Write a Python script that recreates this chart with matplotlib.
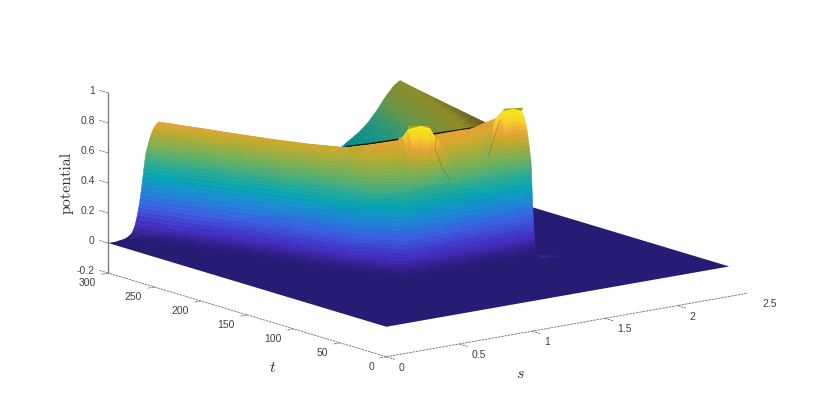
import numpy as np
import matplotlib
matplotlib.use("Agg")
import matplotlib.pyplot as plt
from matplotlib.colors import LinearSegmentedColormap
from mpl_toolkits.mplot3d import proj3d

plt.rcParams["font.family"] = ["Liberation Sans", "DejaVu Sans"]
plt.rcParams["mathtext.fontset"] = "cm"

# axes
s_ticks = [0, 0.5, 1, 1.5, 2, 2.5]
t_ticks = [0, 50, 100, 150, 200, 250, 300]
z_ticks = [-0.2, 0, 0.2, 0.4, 0.6, 0.8, 1]
s_max = 2.355
t_max = 300

# The surface is lofted from values: each station across
# the wave front has a foot, a shoulder and a crest, and the row lists give the
# height profile between them (the picture has far too many cells to type).
foot_s = [0.06, 0.13, 0.20, 0.28, 0.35, 0.42, 0.46, 0.50, 0.57, 0.63, 0.67, 0.73, 0.80, 0.90, 1.00,
          1.15, 1.25, 1.32, 1.38, 1.45, 1.55, 1.63]
foot_t = [300, 275, 250, 225, 200, 175, 160, 145, 120, 100, 89, 89, 89, 89, 89,
          89, 89, 89, 89, 89, 89, 90]
sh_s = [0.26, 0.35, 0.44, 0.52, 0.60, 0.68, 0.73, 0.77, 0.88, 0.95, 0.98, 1.03, 1.08, 1.17, 1.25,
        1.35, 1.43, 1.48, 1.50, 1.60, 1.71, 1.79]
sh_t = [300, 275, 250, 225, 200, 175, 160, 140, 131, 123, 125, 125, 125, 125, 125,
        125, 125, 125, 125, 125, 125, 125]
sh_z = [0.56] * len(foot_s)
crest_s = [0.35, 0.46, 0.56, 0.65, 0.74, 0.84, 0.92, 1.103, 1.11, 0.99, 0.99, 1.067, 1.142, 1.19, 1.318,
           1.433, 1.503, 1.563, 1.62, 1.65, 1.72, 1.78]
crest_t = [300, 275, 250, 225, 200, 175, 160, 158, 160, 138, 132, 130, 132, 136, 156,
           156, 156, 155, 136, 134, 133, 134]
crest_z = [0.747, 0.735, 0.725, 0.72, 0.72, 0.725, 0.76, 0.762, 0.771, 0.836, 0.90, 0.913, 0.878, 0.82, 0.762,
           0.762, 0.762, 0.762, 0.86, 0.903, 0.91, 0.883]

lower_pos = [0, 0.06, 0.12, 0.18, 0.24, 0.3, 0.35, 0.4, 0.44, 0.48, 0.52, 0.55, 0.58, 0.61, 0.64, 0.67, 0.7,
             0.725, 0.75, 0.775, 0.8, 0.82, 0.84, 0.86, 0.88, 0.9, 0.915, 0.93, 0.945, 0.96, 0.97, 0.98, 0.99, 1]
lower_height = [0, 0.002, 0.004, 0.007, 0.011, 0.016, 0.025, 0.034, 0.043, 0.054, 0.072, 0.09, 0.114, 0.142,
                0.178, 0.222, 0.27, 0.313, 0.36, 0.41, 0.465, 0.51, 0.565, 0.62, 0.675, 0.73, 0.775, 0.82,
                0.86, 0.9, 0.925, 0.95, 0.975, 1]
upper_pos = [0.05, 0.1, 0.15, 0.2, 0.25, 0.3, 0.36, 0.42, 0.48, 0.54, 0.6, 0.66, 0.72, 0.78, 0.84, 0.9, 0.95, 1]
upper_height = [0.08, 0.16, 0.25, 0.33, 0.41, 0.49, 0.57, 0.64, 0.71, 0.77, 0.82, 0.86, 0.9, 0.93, 0.955, 0.975,
                0.99, 1]

# back of the wave, seen above the front wall
sail_t = [300, 284, 268, 252, 236, 220, 204, 188, 172, 156, 140]
sail_s_in = [1.593, 1.56, 1.527, 1.495, 1.46, 1.425, 1.385, 1.36, 1.335, 1.315, 1.30]
sail_z_in = [0.361, 0.38, 0.40, 0.43, 0.47, 0.51, 0.56, 0.60, 0.65, 0.70, 0.74]
sail_s_crest = [2.006, 1.967, 1.929, 1.890, 1.852, 1.813, 1.774, 1.736, 1.697, 1.659, 1.62]
sail_z_crest = [0.74, 0.745, 0.75, 0.756, 0.762, 0.768, 0.775, 0.781, 0.788, 0.794, 0.80]
sail_pos = [0, 0.06, 0.12, 0.18, 0.24, 0.3, 0.36, 0.42, 0.48, 0.54, 0.6, 0.66, 0.72, 0.78, 0.83, 0.87, 0.91,
            0.94, 0.97, 1]
sail_height = [0, 0.04, 0.085, 0.125, 0.17, 0.21, 0.26, 0.32, 0.38, 0.46, 0.53, 0.62, 0.71, 0.79, 0.85, 0.9,
               0.94, 0.965, 0.985, 1]

# dark fold along the top of the front wall
ridge_s = [0.84, 0.92, 1.103, 1.318, 1.493, 1.62]
ridge_t = [175, 160, 158, 156.6, 155, 140.5]
ridge_z = [0.73, 0.765, 0.767, 0.767, 0.767, 0.805]

# creases beside the two spikes
fold1_s = [1.142, 1.13, 1.178, 1.233]
fold1_z = [0.878, 0.76, 0.63, 0.534]
fold2_s = [1.577, 1.536, 1.495]
fold2_z = [0.876, 0.763, 0.645]
fold_t = 125

# flat tops of the two spikes
cap1_s = [[0.99, 1.142], [1.03, 1.18]]
cap1_t = [[132, 132], [138, 138]]
cap1_z = [[0.90, 0.878], [0.906, 0.883]]
cap2_s = [[1.65, 1.78], [1.69, 1.82]]
cap2_t = [[134, 134], [138, 138]]
cap2_z = [[0.903, 0.883], [0.908, 0.893]]

# small ripple on the plane at the right foot
ripple_s = [[1.62, 1.78], [1.62, 1.70]]
ripple_t = [[90, 90], [112, 102]]
ripple_z = [[0.01, 0.0], [0.01, 0.0]]

front_stops = [(0.0, "#261c73"), (0.02, "#2d1e82"), (0.06, "#3e28aa"), (0.10, "#4432c8"),
               (0.20, "#3c5fe1"), (0.30, "#1e87d7"), (0.40, "#05a5b4"), (0.50, "#37ac87"),
               (0.60, "#7daf50"), (0.70, "#c4a92a"), (0.76, "#eba537"), (0.83, "#f8d02a"),
               (0.90, "#f5eb14"), (1.0, "#f5eb14")]
back_stops = [(0.0, "#008296"), (0.36, "#008c96"), (0.50, "#289678"), (0.60, "#649646"),
              (0.70, "#878c2d"), (0.74, "#8c8c28"), (0.80, "#5a5019"), (1.0, "#5a5019")]
front_cmap = LinearSegmentedColormap.from_list("front", front_stops)
back_cmap = LinearSegmentedColormap.from_list("back", back_stops)


def loft(start, end, pos):
    return np.outer(1 - np.array(pos), start) + np.outer(pos, end)


def wall_mesh():
    S = np.vstack([loft(foot_s, sh_s, lower_pos), loft(sh_s, crest_s, upper_pos)])
    T = np.vstack([loft(foot_t, sh_t, lower_pos), loft(sh_t, crest_t, upper_pos)])
    Z = np.vstack([np.outer(lower_height, sh_z), loft(sh_z, crest_z, upper_height)])
    return S, T, Z


def sail_mesh():
    S = loft(sail_s_in, sail_s_crest, sail_pos)
    T = np.outer(np.ones(len(sail_pos)), sail_t)
    Z = loft(sail_z_in, sail_z_crest, sail_height)
    return S, T, Z


def put_label(ax, s, t, z, label, ha):
    x, y, _ = proj3d.proj_transform(s, t, z, ax.get_proj())
    ax.text2D(x, y, label, transform=ax.transData, ha=ha, va="center", fontsize=7.5, color="#404040")


def draw_axes(ax):
    line = dict(color="#707070", lw=0.6, ls=(0, (3, 1)), zorder=5)
    ax.plot([0, 2.5], [0, 0], [-0.2, -0.2], **line)
    ax.plot([0, 0], [0, t_max], [-0.2, -0.2], **line)
    ax.plot([0, 0], [t_max, t_max], [-0.2, 1], color="#808080", lw=1, zorder=5)

    for s in s_ticks:
        ax.plot([s, s], [0, -9], [-0.2, -0.2], **line)
        put_label(ax, s, -13, -0.25, f"{s:g}", "left")
    for t in t_ticks:
        ax.plot([0, -0.05], [t, t], [-0.2, -0.2], **line)
        put_label(ax, -0.085, t, -0.252, f"{t:g}", "right")
    for z in z_ticks:
        ax.plot([0, 0], [t_max, t_max + 10], [z, z], **line)
        put_label(ax, 0, t_max + 14.5, z - 0.011, f"{z:g}", "right")


def main():
    fig = plt.figure(figsize=(8.3, 4.01), dpi=100)
    ax = fig.add_axes([93.4 / 830, -127.7 / 401, 654 / 830, 654 / 401],
                      projection="3d", proj_type="ortho", computed_zorder=False)
    ax.view_init(elev=13.3, azim=-127.4)
    ax.set_box_aspect((1, 1, 0.404))
    ax.set_xlim(0, 2.5, view_margin=0)
    ax.set_ylim(0, t_max, view_margin=0)
    ax.set_zlim(-0.2, 1, view_margin=0)
    ax.set_xticks([])
    ax.set_yticks([])
    ax.set_zticks([])
    ax.set_axis_off()

    # base plane
    ax.plot_surface(np.array([[0, s_max], [0, s_max]]), np.array([[0, 0], [t_max, t_max]]),
                    np.zeros((2, 2)), color="#261c73", shade=False, linewidth=0.3, zorder=1)
    ax.plot_surface(np.array(ripple_s), np.array(ripple_t), np.array(ripple_z), color="#2f2490",
                    shade=False, linewidth=0.2, zorder=1.5)

    S, T, Z = sail_mesh()
    ax.plot_surface(S, T, Z, facecolors=back_cmap(Z), rstride=1, cstride=1, shade=False,
                    linewidth=0.4, zorder=2)
    ax.plot(ridge_s, ridge_t, ridge_z, color="#1c1808", lw=1.5, zorder=2.5)

    for cs, ct, cz in [(cap1_s, cap1_t, cap1_z), (cap2_s, cap2_t, cap2_z)]:
        ax.plot_surface(np.array(cs), np.array(ct), np.array(cz), color="#aaa01e", shade=False,
                        linewidth=0.3, zorder=2.8)

    S, T, Z = wall_mesh()
    ax.plot_surface(S, T, Z, facecolors=front_cmap(Z), rstride=1, cstride=1, shade=False,
                    linewidth=0.4, zorder=3)

    for fs, fz in [(fold1_s, fold1_z), (fold2_s, fold2_z)]:
        ax.plot(fs, [fold_t] * len(fs), fz, color="#5a4c1c", lw=0.5, alpha=0.45, zorder=4)

    draw_axes(ax)

    fig.text(67 / 830, 1 - 183 / 401, "potential", family="cmr10", rotation=90, fontsize=11.5,
             ha="center", va="center", color="#303030")
    fig.text(273 / 830, 1 - 368 / 401, r"$t$", fontsize=11.5, ha="center", va="center", color="#303030")
    fig.text(520 / 830, 1 - 373 / 401, r"$s$", fontsize=11.5, ha="center", va="center", color="#303030")

    fig.savefig("out.png", dpi=100)
    plt.close(fig)


if __name__ == "__main__":
    main()
